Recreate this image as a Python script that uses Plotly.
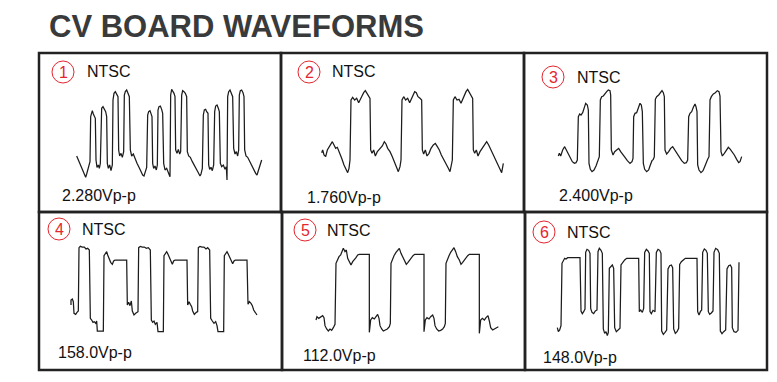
import plotly.graph_objects as go

# ---- data: scope traces (time, level), level axis grows downward ----
panel_numbers = ['1', '2', '3', '4', '5', '6']
signal_standard = 'NTSC'
vpp_labels = ['2.280Vp-p', '1.760Vp-p', '2.400Vp-p', '158.0Vp-p', '112.0Vp-p', '148.0Vp-p']

wave1 = [
    (125, 318), (128, 325), (132, 335), (138, 348), (143, 362), (148, 375), (152, 382), (155, 372), (158, 360), (162, 345),
    (165, 335), (167, 200), (169, 188), (172, 182), (175, 192), (178, 198), (181, 205), (183, 330), (186, 352), (190, 345), (193, 355), (196, 340),
    (198, 188), (200, 175), (204, 170), (208, 178), (212, 185), (215, 200), (217, 340), (220, 355), (224, 345), (228, 362), (232, 345),
    (234, 150), (237, 130), (241, 125), (245, 135), (249, 140), (251, 300), (254, 318), (258, 310), (262, 322), (266, 305),
    (268, 135), (271, 125), (275, 120), (279, 130), (283, 140), (286, 300), (290, 318), (295, 312), (300, 328), (306, 340), (312, 352), (318, 365), (323, 375), (327, 378), (331, 368), (335, 352),
    (338, 195), (341, 185), (345, 182), (348, 195), (351, 200), (353, 340), (356, 355), (360, 348), (364, 360), (367, 345),
    (369, 180), (372, 170), (376, 168), (380, 178), (383, 190), (386, 340), (390, 360), (395, 355), (400, 372), (404, 378), (405, 380),
    (407, 135), (410, 118), (414, 125), (417, 130), (420, 140), (422, 300), (426, 310), (430, 298), (434, 312), (437, 305),
    (440, 135), (443, 122), (447, 125), (451, 130), (455, 140), (457, 305), (461, 318), (466, 322), (472, 335), (478, 345), (484, 358), (490, 368), (495, 378), (498, 372), (502, 355),
    (505, 195), (508, 180), (512, 178), (515, 185), (519, 190), (521, 345), (524, 358), (528, 352), (532, 362), (536, 345),
    (539, 185), (542, 168), (546, 165), (550, 175), (553, 185), (556, 340), (560, 350), (565, 345), (570, 358), (574, 350), (576, 390), (578, 140),
    (581, 125), (585, 120), (589, 128), (593, 140), (596, 295), (600, 312), (604, 305), (608, 318), (611, 300),
    (613, 135), (616, 122), (620, 120), (624, 128), (627, 140), (629, 300), (633, 318), (638, 322), (644, 335), (650, 348), (656, 358), (662, 370), (666, 375), (670, 362), (675, 348), (680, 330),
]

wave2 = [
    (125, 308), (128, 300), (132, 315), (137, 320), (142, 300), (150, 285), (157, 275), (162, 285), (167, 295), (172, 292), (178, 305), (185, 325), (192, 345), (198, 358), (203, 368), (207, 355), (210, 330),
    (213, 150), (218, 142), (224, 150), (230, 145), (236, 158), (241, 150), (246, 138), (251, 128), (256, 122), (261, 130), (266, 140), (270, 145),
    (272, 300), (276, 310), (281, 300), (286, 318), (292, 305), (300, 295), (307, 288), (313, 275), (318, 282), (323, 295), (330, 305), (337, 320), (344, 340), (350, 355), (355, 365), (360, 350), (363, 330),
    (366, 150), (371, 140), (377, 150), (383, 145), (389, 158), (394, 148), (399, 135), (404, 125), (409, 128), (414, 140), (420, 145), (425, 150),
    (427, 300), (431, 312), (436, 300), (441, 318), (447, 310), (453, 295), (460, 285), (466, 280), (472, 290), (478, 300), (484, 315), (491, 330), (498, 345), (505, 355), (510, 365), (514, 350), (517, 330),
    (520, 150), (525, 140), (531, 150), (537, 148), (543, 160), (548, 148), (553, 135), (558, 125), (563, 118), (568, 128), (573, 138), (578, 145),
    (580, 300), (584, 310), (589, 300), (594, 318), (600, 305), (607, 295), (614, 285), (620, 275), (626, 285), (632, 298), (640, 315), (648, 335), (655, 350), (661, 362), (665, 368), (670, 340),
]

wave3 = [
    (115, 318), (118, 310), (122, 318), (128, 300), (134, 290), (138, 298), (143, 312), (150, 325), (157, 335), (163, 340), (168, 338), (172, 330),
    (175, 200), (179, 192), (183, 195), (188, 188), (193, 168), (197, 160), (202, 165), (205, 180),
    (207, 340), (211, 358), (216, 365), (222, 360), (228, 348), (233, 335), (236, 330), (238, 320),
    (241, 150), (245, 140), (250, 138), (255, 130), (260, 125), (265, 120), (270, 122), (272, 135),
    (274, 300), (279, 315), (284, 305), (290, 300), (296, 295), (302, 305), (308, 312), (315, 322), (322, 332), (330, 340), (336, 335), (339, 325),
    (341, 200), (345, 190), (350, 188), (355, 175), (360, 160), (364, 165), (367, 185),
    (370, 340), (374, 358), (380, 365), (386, 360), (391, 345), (396, 332), (400, 328), (403, 320),
    (406, 148), (410, 140), (416, 135), (421, 130), (426, 122), (430, 128), (433, 140),
    (435, 300), (440, 312), (446, 305), (452, 295), (458, 290), (464, 300), (470, 310), (477, 322), (485, 332), (493, 340), (499, 338), (503, 330),
    (506, 200), (510, 190), (515, 185), (520, 172), (525, 162), (528, 170), (531, 185),
    (533, 345), (537, 360), (543, 368), (549, 362), (554, 350), (559, 335), (563, 328), (567, 320),
    (570, 150), (574, 140), (580, 132), (586, 128), (592, 122), (597, 125), (600, 138),
    (603, 305), (607, 318), (613, 310), (619, 300), (625, 292), (631, 298), (637, 305), (643, 315), (650, 328), (656, 338), (660, 335), (665, 320),
]

wave4 = [
    (108, 300), (108, 285), (112, 282), (115, 290), (117, 325), (122, 328), (126, 322), (130, 318),
    (132, 128), (136, 124), (142, 126), (148, 126), (153, 132), (158, 130), (163, 135),
    (166, 340), (170, 345), (174, 352), (178, 350), (182, 355), (185, 348), (187, 378), (195, 378), (205, 378),
    (207, 152), (211, 146), (215, 140), (218, 150), (222, 160), (227, 172), (232, 178), (236, 168), (240, 165), (258, 165), (275, 165),
    (277, 300), (281, 292), (285, 302), (289, 288), (292, 318), (297, 330), (302, 325), (306, 322), (309, 320),
    (311, 128), (316, 124), (322, 126), (328, 126), (334, 130), (340, 128), (346, 135),
    (349, 345), (353, 352), (357, 348), (361, 358), (366, 352), (369, 380), (377, 380), (385, 380),
    (387, 152), (391, 145), (395, 140), (399, 148), (404, 160), (408, 172), (412, 178), (416, 168), (420, 165), (438, 165), (456, 165),
    (458, 300), (462, 290), (466, 298), (470, 305), (473, 318), (478, 328), (484, 322), (488, 320),
    (490, 128), (495, 124), (501, 126), (507, 126), (513, 132), (518, 128), (524, 135),
    (527, 340), (532, 348), (537, 355), (542, 350), (546, 362), (549, 380), (558, 380), (566, 380),
    (568, 152), (572, 146), (576, 140), (580, 148), (585, 160), (589, 170), (593, 176), (597, 168), (601, 165), (618, 165), (636, 165),
    (639, 298), (643, 290), (648, 295), (652, 302), (656, 315), (660, 320), (664, 325), (666, 330),
]

wave5 = [
    (108, 345), (111, 335), (116, 340), (122, 336), (128, 332), (132, 338), (135, 362), (140, 372), (145, 378), (150, 372), (155, 376), (160, 368), (165, 358),
    (168, 175), (172, 165), (177, 155), (182, 150), (186, 140), (190, 130), (195, 140), (199, 135), (203, 160), (208, 172), (213, 180), (218, 170), (223, 165), (228, 158), (233, 150), (238, 148), (253, 148), (268, 148),
    (268, 382), (272, 345), (277, 338), (283, 342), (288, 335), (293, 328), (297, 340), (300, 362), (305, 372), (310, 378), (316, 375), (322, 372), (328, 365), (331, 355),
    (333, 175), (337, 162), (342, 152), (348, 142), (353, 135), (358, 130), (363, 145), (368, 155), (374, 165), (379, 178), (384, 172), (389, 165), (394, 160), (399, 152), (404, 148), (418, 148), (432, 148),
    (432, 380), (436, 345), (441, 338), (447, 342), (452, 335), (458, 330), (462, 340), (465, 362), (470, 372), (476, 378), (482, 376), (488, 372), (493, 365), (496, 355),
    (498, 175), (502, 162), (507, 152), (512, 142), (517, 135), (522, 128), (527, 140), (532, 155), (538, 165), (543, 178), (548, 172), (553, 165), (558, 160), (563, 152), (568, 148), (583, 148), (598, 148),
    (598, 385), (602, 345), (607, 340), (613, 345), (618, 338), (624, 332), (628, 348), (632, 368), (638, 375), (644, 372), (650, 370), (655, 365),
]

wave6 = [
    (112, 368), (115, 380), (119, 375), (123, 362),
    (126, 175), (130, 165), (134, 160), (138, 162), (143, 158), (160, 158), (180, 158),
    (183, 318), (187, 326), (191, 320), (195, 312),
    (197, 142), (201, 133), (206, 136), (210, 145),
    (212, 310), (216, 322), (221, 326), (226, 318), (231, 315),
    (234, 140), (238, 130), (243, 136), (247, 145),
    (250, 372), (254, 385), (258, 380), (262, 392), (265, 382),
    (268, 190), (272, 184), (277, 180), (281, 190),
    (284, 368), (289, 380), (294, 376), (300, 370),
    (303, 180), (308, 172), (314, 165), (320, 160), (340, 160), (356, 160),
    (358, 320), (362, 315), (367, 322), (371, 310),
    (374, 142), (379, 133), (384, 138), (388, 145),
    (390, 320), (394, 326), (399, 316), (405, 320),
    (409, 142), (414, 133), (419, 136), (423, 145),
    (425, 378), (430, 388), (435, 382), (440, 375),
    (444, 192), (449, 182), (454, 180), (458, 188),
    (461, 372), (466, 385), (471, 380), (476, 370),
    (479, 178), (484, 170), (490, 165), (496, 160), (515, 160), (531, 160),
    (533, 320), (537, 330), (541, 320), (545, 315),
    (548, 142), (553, 132), (558, 136), (562, 145),
    (565, 320), (569, 328), (574, 324), (579, 318),
    (582, 142), (587, 130), (593, 134), (598, 145),
    (601, 378), (606, 386), (611, 380), (617, 375),
    (621, 192), (626, 182), (631, 180), (635, 188),
    (637, 368), (642, 380), (648, 382), (654, 376),
    (657, 172),
]

waves = [wave1, wave2, wave3, wave4, wave5, wave6]

# ---- layout (pixels of the 777x382 window) ----
PAGE_MARGIN = 8          # browser default body margin
W, H = 777 - 2 * PAGE_MARGIN, 382 - 2 * PAGE_MARGIN
# panel boxes: x0, x1, y0, y1
boxes = [(39, 281, 53, 212), (281, 524, 53, 212), (524, 767, 53, 212),
         (39, 282, 212, 370), (282, 525, 212, 370), (525, 767, 212, 370)]
# where sample (0, 0) of each trace sits, samples are 1/3 px
origins = [(35, 50), (280, 50), (520, 50), (35, 205), (280, 205), (520, 205)]
circle_centers = [(63, 72), (309, 72), (553, 77), (59, 229), (305, 230), (544, 232)]
ntsc_x = [85, 330, 575, 80, 325, 565]
vpp_pos = [(60, 195), (305, 197), (557, 195), (56, 352), (301, 355), (541, 357)]

RED = '#e3262f'
INK = '#1c1c1c'
FONT = 'Liberation Sans, Arial, sans-serif'


def px(x):
    return (x - PAGE_MARGIN) / W


def py(y):
    return 1 - (y - PAGE_MARGIN) / H


fig = go.Figure()
layout_axes = {}
annotations = []
shapes = []

for i, (wave, box, org) in enumerate(zip(waves, boxes, origins)):
    n = '' if i == 0 else str(i + 1)
    x0, x1, y0, y1 = box
    ox, oy = org
    fig.add_trace(go.Scatter(
        x=[p[0] for p in wave], y=[p[1] for p in wave],
        mode='lines', line=dict(color=INK, width=1.25),
        xaxis='x' + n, yaxis='y' + n, hoverinfo='skip', showlegend=False,
    ))
    layout_axes['xaxis' + n] = dict(domain=[px(x0), px(x1)], range=[(x0 - ox) * 3, (x1 - ox) * 3],
                                    visible=False, anchor='y' + n)
    layout_axes['yaxis' + n] = dict(domain=[py(y1), py(y0)], range=[(y1 - oy) * 3, (y0 - oy) * 3],
                                    visible=False, anchor='x' + n)

    # box border
    shapes.append(dict(type='rect', xref='paper', yref='paper',
                       x0=px(x0), x1=px(x1), y0=py(y1), y1=py(y0),
                       line=dict(color='#222222', width=2.5)))

    # red circled number
    cx, cy = circle_centers[i]
    r = 11
    shapes.append(dict(type='circle', xref='paper', yref='paper',
                       x0=px(cx - r), x1=px(cx + r), y0=py(cy + r), y1=py(cy - r),
                       line=dict(color=RED, width=1)))
    annotations.append(dict(text=panel_numbers[i], x=px(cx), y=py(cy + 0.5), xref='paper', yref='paper',
                            showarrow=False, xanchor='center', yanchor='middle',
                            font=dict(family=FONT, size=16, color=RED)))
    annotations.append(dict(text=signal_standard, x=px(ntsc_x[i]), y=py(cy), xref='paper', yref='paper',
                            showarrow=False, xanchor='left', yanchor='middle',
                            font=dict(family=FONT, size=16, color='#111111')))
    vx, vy = vpp_pos[i]
    annotations.append(dict(text=vpp_labels[i], x=px(vx), y=py(vy), xref='paper', yref='paper',
                            showarrow=False, xanchor='left', yanchor='middle',
                            font=dict(family=FONT, size=16, color='#111111')))

annotations.append(dict(text='<b>CV BOARD WAVEFORMS</b>', x=px(48), y=1, xref='paper', yref='paper',
                        showarrow=False, xanchor='left', yanchor='top', borderpad=0,
                        font=dict(family=FONT, size=31, color='#383a3b')))

fig.update_layout(
    width=W, height=H,
    margin=dict(l=0, r=0, t=0, b=0),
    paper_bgcolor='white', plot_bgcolor='rgba(0,0,0,0)',
    annotations=annotations, shapes=shapes,
    **layout_axes,
)

fig.write_html("out.html")
